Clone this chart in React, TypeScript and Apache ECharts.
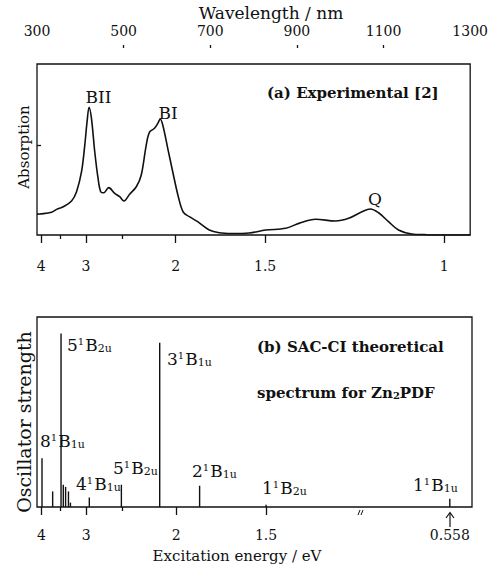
import React, { useEffect, useRef } from "react";
import * as echarts from "echarts";

const HC = 1239.84; // eV·nm, E = HC / λ
const FONT = "DejaVu Serif";
const INK = "#111";

// (a) Experimental absorption spectrum: wavelength (nm) and absorption (arb. units)
const expWavelength = [
  300, 306.9, 333.8, 345.3, 360.5, 379.8, 391.3, 402.8, 410.3, 415.6,
  420.2, 425.7, 433.3, 440.9, 447.1, 454, 465.5, 479.3, 490.8, 500.7,
  513.8, 529.2, 540.7, 552.2, 559.8, 571.3, 578.9, 584.4, 590.3, 601.8,
  613.3, 627.1, 637.9, 651.7, 670.8, 697.7, 720.7, 750.6, 789.7, 828,
  874, 904.6, 943, 989, 1019.5, 1050.1, 1069.4, 1088.5, 1111.5, 1134.5,
  1165.1, 1195.9, 1226.4, 1300,
];
const expAbsorption = [
  12.2, 12.3, 13.3, 15.0, 16.5, 19.9, 25.3, 37.0, 52.6, 66.3,
  74.7, 68.2, 48.7, 33.2, 25.3, 24.7, 27.7, 24.4, 22.4, 19.9,
  23.8, 28.2, 35.1, 52.6, 60.1, 62.4, 65.3, 67.8, 64.3, 50.7,
  37.0, 21.5, 13.3, 10.7, 7.8, 2.9, 1.3, 0.9, 1.2, 2.9,
  3.9, 6.8, 9.2, 8.2, 9.8, 13.6, 15.2, 13.0, 7.8, 2.9,
  0.6, 0.2, 0, 0,
];

// (b) SAC-CI excitation energies (eV) and oscillator strengths (arb.)
const stateEnergies = [3.98, 3.69, 3.49, 3.44, 3.39, 3.33, 3.29, 2.95, 2.51, 2.13, 1.84, 1.5, 0.558];
const oscStrength = [0.257, 0.082, 0.913, 0.117, 0.106, 0.082, 0.023, 0.05, 0.117, 0.864, 0.112, 0.012, 0.044];

// axis ticks
const energyTicksTop = [4, 3, 2, 1.5, 1];
const energyTicksBottom = [4, 3, 2, 1.5];
const energyMinorTicks = [3.5, 2.5];
const breakEnergy = 0.558;
const wavelengthTicks = [500, 700, 900, 1100];
const wavelengthLabels = [300, 500, 700, 900, 1100, 1300];

// axis break: energies below 1 eV are drawn just past the 1 eV position
const BREAK_NM = 1249;
const toAxisNm = (e: number) => (e >= 1 ? HC / e : BREAK_NM);

const energyFormatter = (v: number) => {
  if (v > HC + 1) return String(breakEnergy);
  return String(parseFloat((HC / v).toFixed(2)));
};

const stateRich = {
  n: { fontFamily: FONT, fontSize: 17, color: INK },
  sup: { fontFamily: FONT, fontSize: 10, verticalAlign: "top", color: INK, padding: [0, 1, 0, 0] },
  sub: { fontFamily: FONT, fontSize: 11, verticalAlign: "bottom", color: INK },
};
const stateLabel = (n: string, sub: string) => `{n|${n}}{sup|1}{n|B}{sub|${sub}}`;

const label = (x: number, y: number, text: string, extra: any = {}) => ({
  type: "text",
  x,
  y,
  silent: true,
  style: {
    text,
    fill: INK,
    font: `17px "${FONT}"`,
    align: "left",
    verticalAlign: "middle",
    ...extra,
  },
});

const stateText = (x: number, y: number, n: string, sub: string) =>
  label(x, y, stateLabel(n, sub), { rich: stateRich });

export default function App() {
  const ref = useRef<HTMLDivElement>(null);
  useEffect(() => {
    const chart = echarts.init(ref.current!, null, { renderer: "svg" });
    const axisLineStyle = { color: INK, width: 1.3 };
    const option: any = {
      animation: false,
      backgroundColor: "#fff",
      grid: [
        { left: 37, top: 64, width: 435, height: 171, show: true, borderColor: INK, borderWidth: 1.3 },
        { left: 37, top: 317, width: 435, height: 190, show: true, borderColor: INK, borderWidth: 1.3 },
      ],
      xAxis: [
        {
          gridIndex: 0, type: "value", min: 300, max: 1300, position: "bottom",
          axisLine: { show: false }, splitLine: { show: false },
          axisTick: { show: true, customValues: energyTicksTop.map((e) => HC / e), length: 8, lineStyle: axisLineStyle },
          axisLabel: {
            customValues: energyTicksTop.map((e) => HC / e), formatter: energyFormatter,
            margin: 24, fontFamily: FONT, fontSize: 14, color: INK,
          },
        },
        {
          gridIndex: 0, type: "value", min: 300, max: 1300, position: "bottom",
          axisLine: { show: false }, splitLine: { show: false },
          axisTick: { show: true, customValues: energyMinorTicks.map((e) => HC / e), length: 4, lineStyle: axisLineStyle },
          axisLabel: { show: false },
        },
        {
          gridIndex: 0, type: "value", min: 300, max: 1300, position: "top", offset: 16,
          axisLine: { show: false }, splitLine: { show: false },
          axisTick: { show: true, customValues: wavelengthTicks, length: 3, lineStyle: axisLineStyle },
          axisLabel: {
            customValues: wavelengthLabels, margin: 10, showMinLabel: true, showMaxLabel: true,
            formatter: (v: number) => String(Math.round(v)),
            fontFamily: FONT, fontSize: 14, color: INK,
          },
        },
        {
          gridIndex: 1, type: "value", min: 300, max: 1300, position: "bottom",
          axisLine: { show: false }, splitLine: { show: false },
          axisTick: { show: true, customValues: energyTicksBottom.map((e) => HC / e), length: 8, lineStyle: axisLineStyle },
          axisLabel: {
            customValues: [...energyTicksBottom.map((e) => HC / e), toAxisNm(breakEnergy)],
            formatter: energyFormatter, margin: 21, fontFamily: FONT, fontSize: 14, color: INK,
          },
        },
        {
          gridIndex: 1, type: "value", min: 300, max: 1300, position: "bottom",
          axisLine: { show: false }, splitLine: { show: false },
          axisTick: { show: true, customValues: energyMinorTicks.map((e) => HC / e), length: 4, lineStyle: axisLineStyle },
          axisLabel: { show: false },
        },
      ],
      yAxis: [
        {
          gridIndex: 0, type: "value", min: 0, max: 100,
          axisLine: { show: false }, splitLine: { show: false }, axisLabel: { show: false },
          axisTick: { show: true, inside: true, customValues: [52.6], length: 4, lineStyle: axisLineStyle },
        },
        {
          gridIndex: 1, type: "value", min: 0, max: 1,
          axisLine: { show: false }, splitLine: { show: false }, axisLabel: { show: false }, axisTick: { show: false },
        },
      ],
      series: [
        {
          type: "line",
          xAxisIndex: 0,
          yAxisIndex: 0,
          data: expWavelength.map((w, i) => [w, expAbsorption[i]]),
          smooth: 0.35,
          symbol: "none",
          lineStyle: { color: INK, width: 1.6 },
          z: 3,
        },
        {
          type: "custom",
          xAxisIndex: 3,
          yAxisIndex: 1,
          data: stateEnergies.map((e, i) => [toAxisNm(e), oscStrength[i]]),
          renderItem: (_p: any, api: any) => {
            const p0 = api.coord([api.value(0), 0]);
            const p1 = api.coord([api.value(0), api.value(1)]);
            return {
              type: "line",
              shape: { x1: p0[0], y1: p0[1], x2: p1[0], y2: p1[1] },
              style: { stroke: INK, lineWidth: 1.4 },
            };
          },
          z: 3,
        },
      ],
      graphic: [
        label(271, 13, "Wavelength / nm", { align: "center", font: `17px "${FONT}"` }),
        { ...label(24, 147, "Absorption", { align: "center", font: `15px "${FONT}"` }), rotation: Math.PI / 2 },
        { ...label(24, 422, "Oscillator strength", { align: "center", font: `19px "${FONT}"` }), rotation: Math.PI / 2 },
        label(237, 556, "Excitation energy / eV", { align: "center", font: `15px "${FONT}"` }),
        label(267, 93, "(a) Experimental [2]", { font: `bold 15px "${FONT}"` }),
        label(257, 347, "(b) SAC-CI theoretical", { font: `bold 15px "${FONT}"` }),
        label(257, 393, "{b|spectrum for Zn}{s|2}{b|PDF}", {
          rich: {
            b: { fontFamily: FONT, fontWeight: "bold", fontSize: 15, color: INK },
            s: { fontFamily: FONT, fontWeight: "bold", fontSize: 10, color: INK, verticalAlign: "bottom" },
          },
        }),
        label(98.5, 97, "BII", { align: "center" }),
        label(168, 113, "BI", { align: "center" }),
        label(375, 199, "Q", { align: "center" }),
        stateText(67, 345, "5", "2u"),
        stateText(167, 359, "3", "1u"),
        stateText(40, 441, "8", "1u"),
        stateText(113, 468, "5", "2u"),
        stateText(76, 484, "4", "1u"),
        stateText(192, 471, "2", "1u"),
        stateText(262, 488, "1", "2u"),
        stateText(413, 485, "1", "1u"),
        // axis break marks
        { type: "line", silent: true, shape: { x1: 358, y1: 515, x2: 360, y2: 510 }, style: { stroke: INK, lineWidth: 1 } },
        { type: "line", silent: true, shape: { x1: 361, y1: 515, x2: 363, y2: 510 }, style: { stroke: INK, lineWidth: 1 } },
        // arrow to 0.558 eV
        { type: "line", silent: true, shape: { x1: 450, y1: 527, x2: 450, y2: 513 }, style: { stroke: INK, lineWidth: 1.2 } },
        { type: "polyline", silent: true, shape: { points: [[446, 518], [450, 512.5], [454, 518]] }, style: { stroke: INK, lineWidth: 1.2, fill: "none" } },
      ],
    };
    chart.setOption(option);
    return () => chart.dispose();
  }, []);
  return (
    <div
      ref={ref}
      style={{ position: "absolute", left: 0, top: 0, width: 491, height: 564, background: "#fff" }}
    />
  );
}
